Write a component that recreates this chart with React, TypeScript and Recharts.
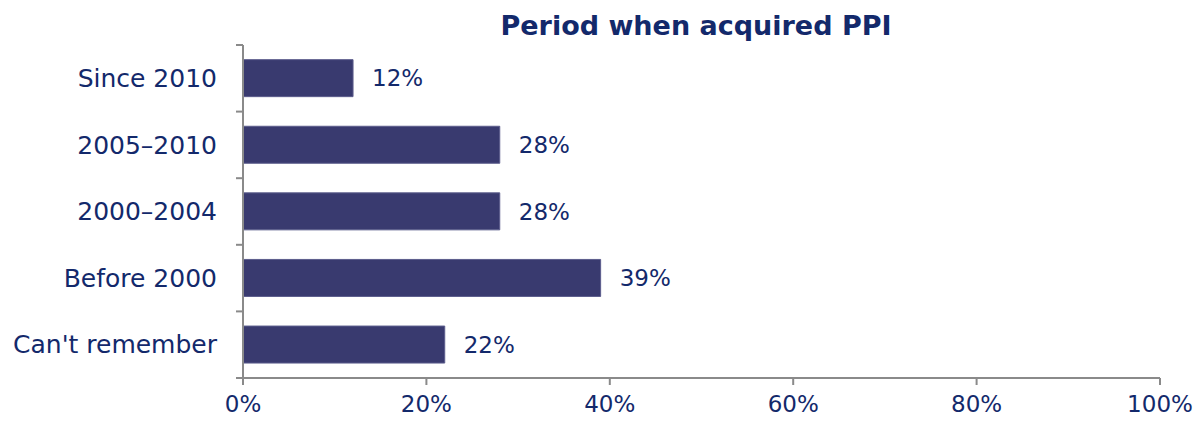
import React from "react";
import { Bar, BarChart, LabelList, XAxis, YAxis } from "recharts";

const periods = ["Since 2010", "2005–2010", "2000–2004", "Before 2000", "Can't remember"];
const shares = [12, 28, 28, 39, 22];
const xTicks = [0, 20, 40, 60, 80, 100];

const data = periods.map((period, i) => ({ period, share: shares[i] }));

const TEXT = "#13296b";
const AXIS = "#8a8a8a";
const FONT = "'DejaVu Sans', Verdana, sans-serif";

const W = 1200;
const H = 432;
const TOP = 45;
const BOTTOM_AXIS = 54;
const PLOT_H = H - TOP - BOTTOM_AXIS;

function CategoryTick(props: any) {
  const { x, y, payload, index, visibleTicksCount } = props;
  const band = PLOT_H / periods.length;
  const axisX = x + 19;
  const top = y - band / 2;
  const bottom = y + band / 2;
  return (
    <g>
      <line x1={axisX} x2={axisX + 7} y1={top} y2={top} stroke={AXIS} strokeWidth={2} />
      {index === visibleTicksCount - 1 && (
        <line x1={axisX} x2={axisX + 7} y1={bottom} y2={bottom} stroke={AXIS} strokeWidth={2} />
      )}
      <text x={x} y={y} dy="0.35em" textAnchor="end" fill={TEXT} fontSize={25} fontFamily={FONT}>
        {payload.value}
      </text>
    </g>
  );
}

export default function App() {
  return (
    <div style={{ position: "absolute", left: 0, top: 0, width: W, height: H, background: "#fff" }}>
      <div
        style={{
          position: "absolute",
          left: 0,
          width: 1392,
          top: 8,
          textAlign: "center",
          fontFamily: FONT,
          fontWeight: "bold",
          fontSize: 27,
          color: TEXT,
          lineHeight: "36px",
        }}
      >
        Period when acquired PPI
      </div>
      <BarChart
        width={W}
        height={H}
        data={data}
        layout="vertical"
        margin={{ top: TOP, right: 40, bottom: 0, left: 0 }}
        barCategoryGap="22%"
      >
        <XAxis
          type="number"
          dataKey="share"
          domain={[0, 100]}
          ticks={xTicks}
          tickFormatter={(v: number) => `${v}%`}
          height={BOTTOM_AXIS}
          axisLine={{ stroke: AXIS, strokeWidth: 2 }}
          tickLine={{ stroke: AXIS, strokeWidth: 2 }}
          tickSize={7}
          tickMargin={11}
          tick={{ fill: TEXT, fontSize: 23, fontFamily: FONT }}
          interval={0}
        />
        <YAxis
          type="category"
          dataKey="period"
          width={243}
          axisLine={{ stroke: AXIS, strokeWidth: 2 }}
          tickLine={false}
          tickSize={0}
          tickMargin={26}
          tick={<CategoryTick />}
          interval={0}
        />
        <Bar dataKey="share" fill="#393a6f" stroke="#5c5d8c" strokeWidth={1} isAnimationActive={false}>
          <LabelList
            dataKey="share"
            position="right"
            offset={19}
            formatter={(v: any) => `${v}%`}
            fill={TEXT}
            fontSize={23}
            fontFamily={FONT}
          />
        </Bar>
      </BarChart>
    </div>
  );
}
